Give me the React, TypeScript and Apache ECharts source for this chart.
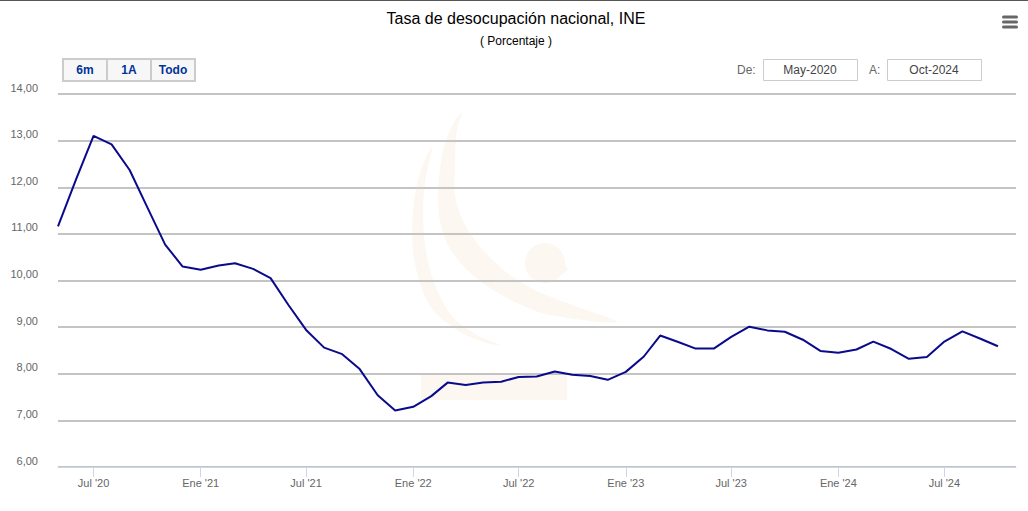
import React, { useEffect, useRef } from "react";
import * as echarts from "echarts";

const months = [
  "2020-05", "2020-06", "2020-07", "2020-08", "2020-09", "2020-10", "2020-11", "2020-12",
  "2021-01", "2021-02", "2021-03", "2021-04", "2021-05", "2021-06", "2021-07", "2021-08",
  "2021-09", "2021-10", "2021-11", "2021-12",
  "2022-01", "2022-02", "2022-03", "2022-04", "2022-05", "2022-06", "2022-07", "2022-08",
  "2022-09", "2022-10", "2022-11", "2022-12",
  "2023-01", "2023-02", "2023-03", "2023-04", "2023-05", "2023-06", "2023-07", "2023-08",
  "2023-09", "2023-10", "2023-11", "2023-12",
  "2024-01", "2024-02", "2024-03", "2024-04", "2024-05", "2024-06", "2024-07", "2024-08",
  "2024-09", "2024-10",
];

const values = [
  11.16, 12.17, 13.1, 12.92, 12.37, 11.58, 10.77, 10.3,
  10.23, 10.32, 10.37, 10.25, 10.05, 9.47, 8.94, 8.56,
  8.42, 8.1, 7.54, 7.21,
  7.29, 7.52, 7.81, 7.76, 7.81, 7.83, 7.93, 7.94,
  8.05, 7.98, 7.95, 7.87,
  8.04, 8.37, 8.82, 8.68, 8.54, 8.54, 8.79, 9.01,
  8.93, 8.9, 8.73, 8.49,
  8.45, 8.52, 8.69, 8.53, 8.32, 8.36, 8.69, 8.91,
  8.75, 8.59,
];

const tickMonths = [
  "2020-07", "2021-01", "2021-07", "2022-01", "2022-07",
  "2023-01", "2023-07", "2024-01", "2024-07",
];

const yTicks = [6, 7, 8, 9, 10, 11, 12, 13, 14];

const rangeButtons = ["6m", "1A", "Todo"];
const fromLabel = "May-2020";
const toLabel = "Oct-2024";

const titleText = "Tasa de desocupación nacional, INE";
const subtitleText = "( Porcentaje )";

const FONT = "'Liberation Sans', Arial, Helvetica, sans-serif";

function toTs(m: string): number {
  const [y, mo] = m.split("-").map(Number);
  return Date.UTC(y, mo - 1, 1);
}

const monthNames = ["Ene", "Feb", "Mar", "Abr", "May", "Jun", "Jul", "Ago", "Sep", "Oct", "Nov", "Dic"];

export default function App() {
  const ref = useRef<HTMLDivElement>(null);

  useEffect(() => {
    if (!ref.current) return;
    const chart = echarts.init(ref.current, null, { renderer: "svg" });

    const data = months.map((m, i) => [toTs(m), values[i]]);
    const tickValues = tickMonths.map(toTs);
    const wm = "#fcf8f1";

    const graphic: any[] = [
      { type: "line", z: 5, shape: { x1: 0, y1: 0.5, x2: 1028, y2: 0.5 }, style: { stroke: "#555", lineWidth: 1 } },
      // watermark (INE logo, very faint)
      {
        type: "polygon", z: -10, silent: true,
        shape: {
          smooth: 0.35,
          points: [
            [462, 112], [450, 130], [442, 155], [438, 200], [443, 233], [458, 260], [483, 283],
            [517, 303], [550, 315], [617, 322], [567, 303], [533, 289], [500, 267], [470, 233],
            [456, 200], [455, 160], [457, 130],
          ],
        },
        style: { fill: wm },
      },
      {
        type: "polygon", z: -10, silent: true,
        shape: {
          smooth: 0.35,
          points: [
            [432, 147], [420, 173], [413, 210], [413, 250], [420, 283], [433, 310], [457, 330],
            [483, 342], [500, 345], [477, 335], [453, 317], [437, 290], [427, 257], [423, 217],
            [425, 183],
          ],
        },
        style: { fill: wm },
      },
      { type: "circle", z: -10, silent: true, shape: { cx: 545, cy: 263, r: 20 }, style: { fill: wm } },
      { type: "polygon", z: -10, silent: true, shape: { points: [[558, 254], [568, 270], [560, 276]] }, style: { fill: wm } },
      { type: "rect", z: -10, silent: true, shape: { x: 421, y: 373, width: 146, height: 27 }, style: { fill: wm } },
      // title
      {
        type: "text", z: 5, x: 516, y: 18,
        style: { text: titleText, fill: "#000", font: `16px ${FONT}`, align: "center", verticalAlign: "middle" },
      },
      {
        type: "text", z: 5, x: 516, y: 41,
        style: { text: subtitleText, fill: "#000", font: `12px ${FONT}`, align: "center", verticalAlign: "middle" },
      },
      // menu icon
      ...[17, 22, 27].map((y) => ({
        type: "rect", z: 5, shape: { x: 1002, y: y - 1.5, width: 16, height: 3, r: 1.5 }, style: { fill: "#666" },
      })),
      // date range inputs
      {
        type: "text", z: 5, x: 737, y: 70,
        style: { text: "De:", fill: "#666", font: `12px ${FONT}`, align: "left", verticalAlign: "middle" },
      },
      { type: "rect", z: 5, shape: { x: 763.5, y: 59.5, width: 94, height: 21 }, style: { fill: "#fff", stroke: "#ccc", lineWidth: 1 } },
      {
        type: "text", z: 6, x: 810, y: 70,
        style: { text: fromLabel, fill: "#444", font: `12px ${FONT}`, align: "center", verticalAlign: "middle" },
      },
      {
        type: "text", z: 5, x: 869, y: 70,
        style: { text: "A:", fill: "#666", font: `12px ${FONT}`, align: "left", verticalAlign: "middle" },
      },
      { type: "rect", z: 5, shape: { x: 887.5, y: 59.5, width: 94, height: 21 }, style: { fill: "#fff", stroke: "#ccc", lineWidth: 1 } },
      {
        type: "text", z: 6, x: 934, y: 70,
        style: { text: toLabel, fill: "#444", font: `12px ${FONT}`, align: "center", verticalAlign: "middle" },
      },
      // hide possible boundary ticks at axis ends
      { type: "rect", z: 50, silent: true, shape: { x: 53, y: 468.5, width: 9, height: 12 }, style: { fill: "#fff" } },
      { type: "rect", z: 50, silent: true, shape: { x: 1012, y: 468.5, width: 12, height: 12 }, style: { fill: "#fff" } },
    ];

    rangeButtons.forEach((b, i) => {
      const x = 63 + i * 44;
      graphic.push({
        type: "rect", z: 5, shape: { x: x, y: 59, width: 44, height: 22 },
        style: { fill: "#f7f7f7", stroke: "#cccccc", lineWidth: 2 },
      });
      graphic.push({
        type: "text", z: 6, x: x + 22, y: 70,
        style: { text: b, fill: "#003399", font: `bold 12px ${FONT}`, align: "center", verticalAlign: "middle" },
      });
    });

    chart.setOption({
      animation: false,
      backgroundColor: "#fff",
      textStyle: { fontFamily: FONT },
      grid: { left: 58, right: 12, top: 94, bottom: 44, containLabel: false },
      graphic,
      xAxis: {
        type: "value",
        min: toTs("2020-05"),
        max: toTs("2024-11"),
        axisLine: { show: true, lineStyle: { color: "#ccd6eb", width: 1 } },
        axisTick: { show: true, length: 10, customValues: tickValues, lineStyle: { color: "#ccd6eb" } },
        splitLine: { show: false },
        axisLabel: {
          customValues: tickValues,
          margin: 10,
          color: "#666",
          fontSize: 11,
          fontFamily: FONT,
          formatter: (v: number) => {
            const d = new Date(v);
            return `${monthNames[d.getUTCMonth()]} '${String(d.getUTCFullYear()).slice(2)}`;
          },
        },
      },
      yAxis: {
        type: "value",
        min: yTicks[0],
        max: yTicks[yTicks.length - 1],
        interval: 1,
        axisLine: { show: false },
        axisTick: { show: false },
        splitLine: { show: true, lineStyle: { color: "#c4c4c4", width: 2 } },
        axisLabel: {
          margin: 20,
          color: "#666",
          fontSize: 11,
          fontFamily: FONT,
          verticalAlign: "bottom",
          padding: [0, 0, 1, 0],
          formatter: (v: number) => v.toFixed(2).replace(".", ","),
        },
      },
      series: [
        {
          type: "line",
          data,
          showSymbol: false,
          symbol: "none",
          lineStyle: { color: "#0a0a8c", width: 2 },
          itemStyle: { color: "#0a0a8c" },
          z: 3,
        },
      ],
    });

    return () => chart.dispose();
  }, []);

  return (
    <div
      ref={ref}
      style={{ position: "fixed", left: 0, top: 0, width: 1028, height: 511 }}
    />
  );
}
